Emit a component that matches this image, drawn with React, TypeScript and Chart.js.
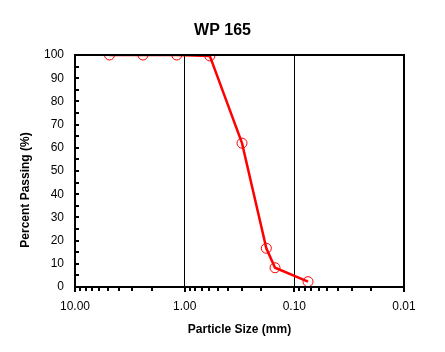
import React, { useEffect, useRef } from "react";
import { Chart, registerables } from "chart.js";

Chart.register(...registerables);

const chartTitle = "WP 165";
const xAxisTitle = "Particle Size (mm)";
const yAxisTitle = "Percent Passing (%)";
const particleSizes = [4.85, 2.4, 1.18, 0.59, 0.3, 0.18, 0.15, 0.075];
const percentPassing = [100, 100, 100, 99.6, 62, 16.7, 8.3, 2.3];
const xMajorTicks = [10, 1, 0.1, 0.01];
const yTickStep = 10;

const FONT = 'Arial, "Liberation Sans", sans-serif';

function isDecade(v: number) {
  const l = Math.log10(v);
  return Math.abs(l - Math.round(l)) < 1e-6;
}

const framePlugin = {
  id: "frameTicks",
  afterDatasetsDraw(chart: any) {
    const { ctx, chartArea, scales } = chart;
    const { left, right, top, bottom } = chartArea;
    ctx.save();
    ctx.strokeStyle = "#000";
    ctx.lineWidth = 2;
    for (let v = 0; v <= 100; v += 5) {
      const y = Math.round(scales.y.getPixelForValue(v));
      ctx.beginPath();
      ctx.moveTo(left, y);
      ctx.lineTo(left + 4, y);
      ctx.stroke();
    }
    const decades = [0.01, 0.1, 1];
    const vals: number[] = [];
    decades.forEach((d) => {
      for (let m = 1; m <= 9; m++) vals.push(d * m);
    });
    vals.push(10);
    vals.forEach((v) => {
      const x = Math.round(scales.x.getPixelForValue(v));
      ctx.beginPath();
      ctx.moveTo(x, bottom);
      ctx.lineTo(x, bottom + (isDecade(v) ? 5 : 4));
      ctx.stroke();
    });
    ctx.strokeRect(left, top, right - left, bottom - top);
    ctx.fillStyle = "#000";
    ctx.font = `bold 12px ${FONT}`;
    ctx.textAlign = "center";
    ctx.textBaseline = "middle";
    ctx.translate(26, 190);
    ctx.rotate(-Math.PI / 2);
    ctx.fillText(yAxisTitle, 0, 0);
    ctx.restore();
  },
};

export default function App() {
  const ref = useRef<HTMLCanvasElement | null>(null);
  useEffect(() => {
    if (!ref.current) return;
    Chart.defaults.font.family = FONT;
    Chart.defaults.color = "#000";
    const chart = new Chart(ref.current, {
      type: "line",
      data: {
        datasets: [
          {
            data: particleSizes.map((x, i) => ({ x, y: percentPassing[i] })),
            borderColor: "#ff0000",
            borderWidth: 2.5,
            pointRadius: 5,
            pointBorderWidth: 1,
            pointBorderColor: "#ff0000",
            pointBackgroundColor: "rgba(0,0,0,0)",
            tension: 0,
            fill: false,
          },
        ],
      },
      options: {
        responsive: false,
        animation: false,
        layout: { padding: 0 },
        plugins: {
          legend: { display: false },
          tooltip: { enabled: false },
          title: {
            display: true,
            text: chartTitle,
            color: "#000",
            font: { size: 16, weight: "bold", family: FONT },
            padding: { top: 21, bottom: 14.8 },
          },
        },
        scales: {
          x: {
            type: "logarithmic",
            reverse: true,
            min: 0.01,
            max: 10,
            afterFit: (s: any) => {
              s.height = 65;
            },
            border: { display: false },
            grid: {
              drawTicks: false,
              lineWidth: 1,
              color: (c: any) => {
                const v = c.tick?.value;
                if (v === undefined) return "rgba(0,0,0,0)";
                return isDecade(v) && v > 0.05 && v < 5 ? "#000" : "rgba(0,0,0,0)";
              },
            },
            ticks: {
              autoSkip: false,
              maxRotation: 0,
              padding: 12,
              color: "#000",
              font: { size: 12, family: FONT },
              callback: (v: any) => {
                const n = Number(v);
                return xMajorTicks.some((m) => Math.abs(m - n) / m < 1e-6) ? n.toFixed(2) : "";
              },
            },
            title: {
              display: true,
              text: xAxisTitle,
              color: "#000",
              font: { size: 12, weight: "bold", family: FONT },
              padding: { top: 0, bottom: 15 },
            },
          },
          y: {
            type: "linear",
            min: 0,
            max: 100,
            afterFit: (s: any) => {
              s.width = 75;
            },
            border: { display: false },
            grid: { display: false, drawTicks: false },
            ticks: {
              stepSize: yTickStep,
              padding: 11,
              color: "#000",
              font: { size: 12, family: FONT },
            },
          },
          yR: {
            type: "linear",
            position: "right",
            display: true,
            min: 0,
            max: 100,
            afterFit: (s: any) => {
              s.width = 41;
            },
            border: { display: false },
            grid: { display: false, drawTicks: false },
            ticks: { display: false },
          },
        },
      },
      plugins: [framePlugin],
    } as any);
    return () => chart.destroy();
  }, []);
  return (
    <div style={{ position: "absolute", left: 0, top: 0, width: 445, height: 352, background: "#fff" }}>
      <canvas ref={ref} width={445} height={352} style={{ display: "block" }} />
    </div>
  );
}
